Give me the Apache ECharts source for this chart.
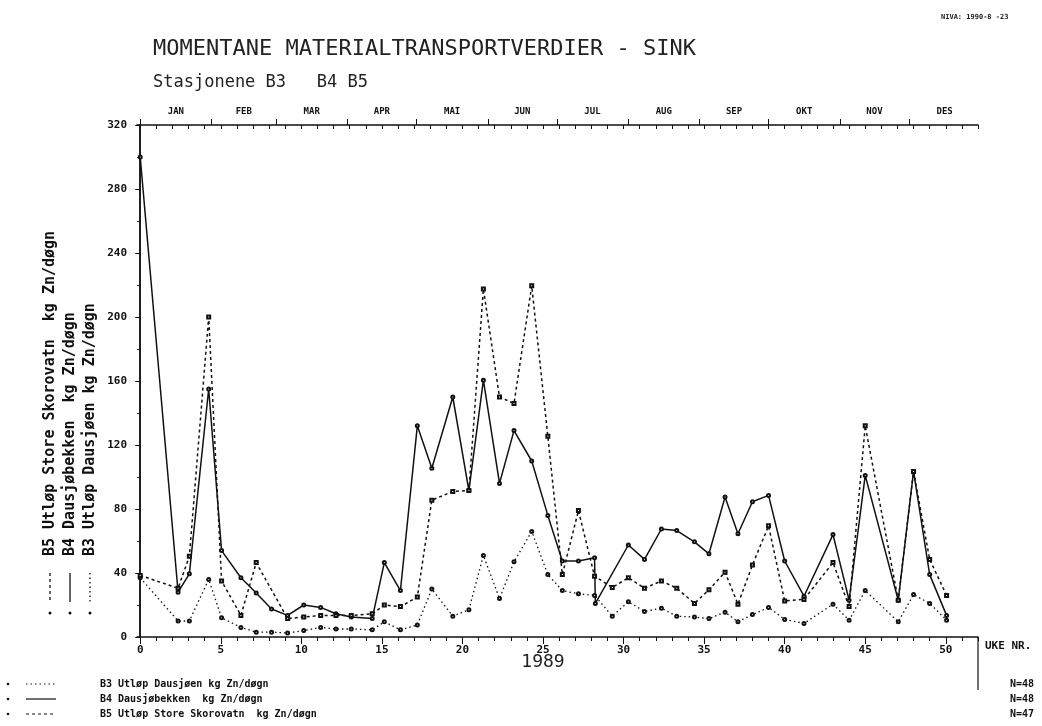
<!DOCTYPE html>
<html>
<head>
<meta charset="utf-8">
<script src="https://cdn.jsdelivr.net/npm/echarts@6/dist/echarts.min.js"></script>
<style>
html,body{margin:0;padding:0;background:#fff;}
#chart{width:1042px;height:726px;}
</style>
</head>
<body>
<div id="chart"></div>
<script>
// ---- data (week number of each sample, kg Zn/døgn) ----
const weeksB3B5 = [0, 2.35, 3.05, 4.25, 5.05, 6.25, 7.2, 8.15, 9.15, 10.15, 11.2, 12.15, 13.1, 14.4, 15.15, 16.15, 17.2, 18.1, 19.4, 20.4, 21.3, 22.3, 23.2, 24.3, 25.3, 26.2, 27.2, 28.2, 29.3, 30.3, 31.3, 32.35, 33.3, 34.4, 35.3, 36.3, 37.1, 38.0, 39.0, 40.0, 41.2, 43.0, 44.0, 45.0, 47.05, 48.0, 49.0, 50.05];
const weeksB4 = [0, 2.35, 3.05, 4.25, 5.05, 6.25, 7.2, 8.15, 9.15, 10.15, 11.2, 12.15, 13.1, 14.4, 15.15, 16.15, 17.2, 18.1, 19.4, 20.4, 21.3, 22.3, 23.2, 24.3, 25.3, 26.2, 27.2, 28.2, 28.25, 30.3, 31.3, 32.35, 33.3, 34.4, 35.3, 36.3, 37.1, 38.0, 39.0, 40.0, 41.2, 43.0, 44.0, 45.0, 47.05, 48.0, 49.0, 50.05];
const b3 = [37, 10, 10, 36, 12, 6, 3, 3, 2.5, 4, 6, 5, 5, 4.5, 9.5, 4.5, 7.5, 30, 13, 17, 51, 24, 47, 66, 39, 29, 27, 26, 13, 22, 16, 18, 13, 12.5, 11.5, 15.5, 9.5, 14, 18.5, 11, 8.5, 20.5, 10.5, 29, 9.5, 26.5, 21, 10.5];
const b4 = [300, 28, 39.5, 155, 54, 37, 27.5, 17.5, 13.5, 20, 18.5, 14.5, 12.5, 11.5, 46.5, 29, 132, 105.5, 150, 91.5, 160.5, 96, 129, 110, 76, 47.5, 47.5, 49.5, 21, 57.5, 48.5, 67.5, 66.5, 59.5, 52, 87.5, 64.5, 84.5, 88.5, 47.5, 25.5, 64, 23, 101, 23, 103.5, 39, 13.5];
const b5 = [38.5, 30.5, 50.5, 200, 35, 13.5, 46.5, null, 11.5, 12.5, 13.5, 13.5, 13.5, 14.5, 20, 19, 25, 85.5, 91, 91.5, 217.5, 150, 146, 219.5, 125.5, 39, 79, 38, 31, 37, 30.5, 35, 30.5, 21, 29.5, 40.5, 20.5, 45, 69.5, 22.5, 23.5, 46.5, 19, 132, 23, 103.5, 48.5, 26];

const months = ['JAN','FEB','MAR','APR','MAI','JUN','JUL','AUG','SEP','OKT','NOV','DES'];
const monthStartDay = [0, 31, 59, 90, 120, 151, 181, 212, 243, 273, 304, 334, 365];
const weekTicks = Array.from({length: 53}, (_, i) => i);
const weekLabels = [0, 5, 10, 15, 20, 25, 30, 35, 40, 45, 50];

const seriesNames = ['B3 Utløp Dausjøen kg Zn/døgn', 'B4 Dausjøbekken  kg Zn/døgn', 'B5 Utløp Store Skorovatn  kg Zn/døgn'];
const seriesN = ['N=48', 'N=48', 'N=47'];

const monthBounds = monthStartDay.map(d => d / 7);
const monthMids = months.map((m, i) => (monthStartDay[i] + monthStartDay[i + 1]) / 2 / 7);

const pairs = (xs, ys) => xs.map((x, i) => [x, ys[i]]);

const MONO = "'DejaVu Sans Mono', monospace";
const INK = '#111';

const chart = echarts.init(document.getElementById('chart'), null, {renderer: 'canvas'});

const baseX = {type: 'value', min: -0.2, max: 52, splitLine: {show: false}};

const option = {
  animation: false,
  backgroundColor: '#fff',
  grid: {left: 137, right: 64, top: 125, bottom: 89, show: false},
  title: [
    {text: 'MOMENTANE MATERIALTRANSPORTVERDIER - SINK', left: 148, top: 33,
     textStyle: {fontFamily: MONO, fontSize: 22, fontWeight: 'normal', color: '#222'}},
    {text: 'Stasjonene B3   B4 B5', left: 148, top: 69,
     textStyle: {fontFamily: MONO, fontSize: 17, fontWeight: 'normal', color: '#222'}},
    {text: 'NIVA: 1990-8 -23', left: 936, top: 9,
     textStyle: {fontFamily: MONO, fontSize: 7, fontWeight: 'bold', color: '#222'}}
  ],
  xAxis: [
    Object.assign({}, baseX, {
      position: 'bottom',
      axisLine: {show: true, lineStyle: {color: INK, width: 1.5}},
      axisTick: {show: true, customValues: weekTicks, length: 4, lineStyle: {color: INK}},
      axisLabel: {show: true, customValues: weekLabels, margin: 8,
        fontFamily: MONO, fontSize: 11, fontWeight: 'bold', color: INK}
    }),
    Object.assign({}, baseX, {
      position: 'bottom',
      axisLine: {show: false},
      axisTick: {show: true, customValues: weekLabels, length: 7, lineStyle: {color: INK}},
      axisLabel: {show: false}
    }),
    Object.assign({}, baseX, {
      position: 'top',
      axisLine: {show: true, lineStyle: {color: INK, width: 1.5}},
      axisTick: {show: true, inside: true, customValues: weekTicks, length: 4, lineStyle: {color: INK}},
      axisLabel: {show: false}
    }),
    Object.assign({}, baseX, {
      position: 'top',
      axisLine: {show: false},
      axisTick: {show: true, customValues: monthBounds.slice(0, 12), length: 6, lineStyle: {color: INK}},
      axisLabel: {show: true, customValues: monthMids, margin: 9,
        fontFamily: MONO, fontSize: 9, fontWeight: 'bold', color: INK,
        formatter: v => {
          let best = 0, bd = 1e9;
          monthMids.forEach((m, i) => { const d = Math.abs(m - v); if (d < bd) { bd = d; best = i; } });
          return months[best];
        }}
    })
  ],
  yAxis: [
    {type: 'value', position: 'left', min: 0, max: 320, interval: 40,
     splitLine: {show: false},
     axisLine: {show: true, lineStyle: {color: INK, width: 1.5}},
     axisTick: {show: true, length: 5, lineStyle: {color: INK}},
     minorTick: {show: true, splitNumber: 2, length: 3, lineStyle: {color: INK}},
     axisLabel: {margin: 10, fontFamily: MONO, fontSize: 11, fontWeight: 'bold', color: INK}},
    {type: 'value', position: 'right', min: 0, max: 320, interval: 40,
     splitLine: {show: false},
     axisLine: {show: true, lineStyle: {color: INK, width: 1.5}},
     axisTick: {show: false}, axisLabel: {show: false}}
  ],
  series: [
    {name: seriesNames[0], type: 'line', xAxisIndex: 0, yAxisIndex: 0,
     data: pairs(weeksB3B5, b3), symbol: 'emptyCircle', symbolSize: 3,
     lineStyle: {color: INK, width: 1.3, type: [1.5, 3]}, itemStyle: {color: INK, borderColor: INK, borderWidth: 1}},
    {name: seriesNames[1], type: 'line', xAxisIndex: 0, yAxisIndex: 0,
     data: pairs(weeksB4, b4), symbol: 'emptyCircle', symbolSize: 3,
     lineStyle: {color: INK, width: 1.5, type: 'solid'}, itemStyle: {color: INK, borderColor: INK, borderWidth: 1}},
    {name: seriesNames[2], type: 'line', xAxisIndex: 0, yAxisIndex: 0, connectNulls: true,
     data: pairs(weeksB3B5, b5), symbol: 'emptyRect', symbolSize: 3,
     lineStyle: {color: INK, width: 1.5, type: [3, 3]}, itemStyle: {color: INK, borderColor: INK, borderWidth: 1}}
  ],
  graphic: []
};

// rotated station labels on the left with key samples
const leftCols = [90, 70, 50];            // B3, B4, B5 columns
const dashOf = [[1.5, 3], null, [3, 3]];
const g = [];
for (let i = 0; i < 3; i++) {
  const x = leftCols[i];
  g.push({type: 'text', x: x, y: 556, rotation: Math.PI / 2,
    style: {text: seriesNames[i], fontFamily: MONO, fontSize: 15, fontWeight: 'bold', fill: INK,
            textAlign: 'left', textVerticalAlign: 'middle'}});
  g.push({type: 'line', shape: {x1: x, y1: 573, x2: x, y2: 602},
    style: {stroke: INK, lineWidth: 1.3, lineDash: dashOf[i]}});
  g.push({type: 'circle', shape: {cx: x, cy: 613, r: 1.5}, style: {fill: INK}});
}
// bottom legend
const rowsY = [684, 699, 714];
for (let i = 0; i < 3; i++) {
  const y = rowsY[i];
  g.push({type: 'circle', shape: {cx: 8, cy: y, r: 1.3}, style: {fill: INK}});
  g.push({type: 'line', shape: {x1: 26, y1: y, x2: 56, y2: y},
    style: {stroke: INK, lineWidth: 1.2, lineDash: dashOf[i]}});
  g.push({type: 'text', x: 100, y: y, style: {text: seriesNames[i], fontFamily: MONO, fontSize: 10,
    fontWeight: 'bold', fill: INK, textAlign: 'left', textVerticalAlign: 'middle'}});
  g.push({type: 'text', x: 1010, y: y, style: {text: seriesN[i], fontFamily: MONO, fontSize: 10,
    fontWeight: 'bold', fill: INK, textAlign: 'left', textVerticalAlign: 'middle'}});
}
g.push({type: 'line', shape: {x1: 978, y1: 637, x2: 978, y2: 690}, style: {stroke: INK, lineWidth: 1.2}});
g.push({type: 'text', x: 985, y: 646, style: {text: 'UKE NR.', fontFamily: MONO, fontSize: 11,
  fontWeight: 'bold', fill: INK, textAlign: 'left', textVerticalAlign: 'middle'}});
g.push({type: 'text', x: 543, y: 662, style: {text: '1989', fontFamily: MONO, fontSize: 18,
  fontWeight: 'normal', fill: '#222', textAlign: 'center', textVerticalAlign: 'middle'}});
option.graphic = g;

chart.setOption(option);
</script>
</body>
</html>
